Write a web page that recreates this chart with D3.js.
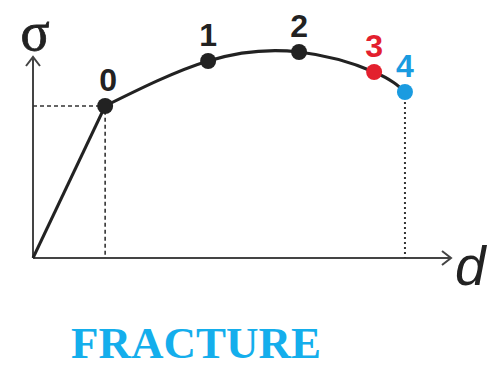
<!DOCTYPE html>
<html>
<head>
<meta charset="utf-8">
<script src="https://cdn.jsdelivr.net/npm/d3@7"></script>
<style>
  body { margin: 0; background: #fff; }
  svg { display: block; }
</style>
</head>
<body>
<div id="chart"></div>
<script>
// stress (sigma) vs displacement (d), points along the softening curve
var pointLabels = ["0", "1", "2", "3", "4"];
var pointD = [1.73, 4.2, 6.38, 8.18, 8.92];
var pointSigma = [7.6, 9.85, 10.3, 9.3, 8.3];
var pointColors = ["#222222", "#222222", "#222222", "#e3202e", "#1a9be0"];
var axisMax = 10;
var title = "FRACTURE";

var width = 488, height = 368;

var svg = d3.select("#chart").append("svg")
  .attr("width", width)
  .attr("height", height);

var x = d3.scaleLinear().domain([0, axisMax]).range([33, 450]);
var y = d3.scaleLinear().domain([0, axisMax]).range([258, 58]);

var data = pointD.map(function (d, i) {
  return { d: d, s: pointSigma[i], label: pointLabels[i], color: pointColors[i] };
});

// axes
var axisColor = "#444";
svg.append("line")
  .attr("x1", x(0)).attr("y1", y(0))
  .attr("x2", x(0)).attr("y2", y(axisMax) - 1)
  .attr("stroke", axisColor).attr("stroke-width", 2);
svg.append("line")
  .attr("x1", x(0)).attr("y1", y(0))
  .attr("x2", x(axisMax) + 1).attr("y2", y(0))
  .attr("stroke", axisColor).attr("stroke-width", 2);

// arrow heads
svg.append("path")
  .attr("d", "M" + (x(0) - 7) + "," + (y(axisMax) + 8) + "L" + x(0) + "," + (y(axisMax) - 1) + "L" + (x(0) + 7) + "," + (y(axisMax) + 8))
  .attr("fill", "none").attr("stroke", axisColor).attr("stroke-width", 2);
svg.append("path")
  .attr("d", "M" + (x(axisMax) - 8) + "," + (y(0) - 7) + "L" + (x(axisMax) + 1) + "," + y(0) + "L" + (x(axisMax) - 8) + "," + (y(0) + 7))
  .attr("fill", "none").attr("stroke", axisColor).attr("stroke-width", 2);

// axis labels
svg.append("text")
  .attr("x", 35).attr("y", 50)
  .attr("text-anchor", "middle")
  .attr("font-family", "Liberation Serif, serif")
  .attr("font-size", 54)
  .attr("fill", "#222")
  .attr("stroke", "#222").attr("stroke-width", 0.8)
  .text("σ");
svg.append("text")
  .attr("x", 455).attr("y", 285)
  .attr("font-family", "Liberation Sans, Arial, sans-serif")
  .attr("font-style", "italic")
  .attr("font-size", 55)
  .attr("fill", "#222")
  .text("d");

// guide lines
var first = data[0], last = data[data.length - 1];
svg.append("path")
  .attr("d", "M" + x(0) + "," + y(first.s) + "H" + x(first.d) + "V" + y(0))
  .attr("fill", "none").attr("stroke", "#333").attr("stroke-width", 1.6)
  .attr("stroke-dasharray", "4,3");
svg.append("line")
  .attr("x1", x(last.d)).attr("y1", y(last.s))
  .attr("x2", x(last.d)).attr("y2", y(0))
  .attr("stroke", "#333").attr("stroke-width", 2)
  .attr("stroke-dasharray", "2,3");

// elastic branch
svg.append("line")
  .attr("x1", x(0)).attr("y1", y(0))
  .attr("x2", x(first.d)).attr("y2", y(first.s))
  .attr("stroke", "#222").attr("stroke-width", 3);

// softening curve
var line = d3.line()
  .x(function (d) { return x(d.d); })
  .y(function (d) { return y(d.s); })
  .curve(d3.curveNatural);

svg.append("path")
  .datum(data)
  .attr("d", line)
  .attr("fill", "none")
  .attr("stroke", "#222")
  .attr("stroke-width", 3);

svg.selectAll(".pt")
  .data(data)
  .enter().append("circle")
  .attr("class", "pt")
  .attr("cx", function (d) { return x(d.d); })
  .attr("cy", function (d) { return y(d.s); })
  .attr("r", 8)
  .attr("fill", function (d) { return d.color; });

svg.selectAll(".lbl")
  .data(data)
  .enter().append("text")
  .attr("class", "lbl")
  .attr("x", function (d, i) { return x(d.d) + (i === 0 ? 3 : 0); })
  .attr("y", function (d) { return y(d.s) - 15; })
  .attr("text-anchor", "middle")
  .attr("font-family", "Liberation Sans, Arial, sans-serif")
  .attr("font-weight", "bold")
  .attr("font-size", 32)
  .attr("fill", function (d) { return d.color; })
  .text(function (d) { return d.label; });

svg.append("text")
  .attr("x", 196).attr("y", 358)
  .attr("text-anchor", "middle")
  .attr("font-family", "Liberation Serif, Times New Roman, serif")
  .attr("font-weight", "bold")
  .attr("font-size", 45)
  .attr("fill", "#14aeec")
  .text(title);
</script>
</body>
</html>
